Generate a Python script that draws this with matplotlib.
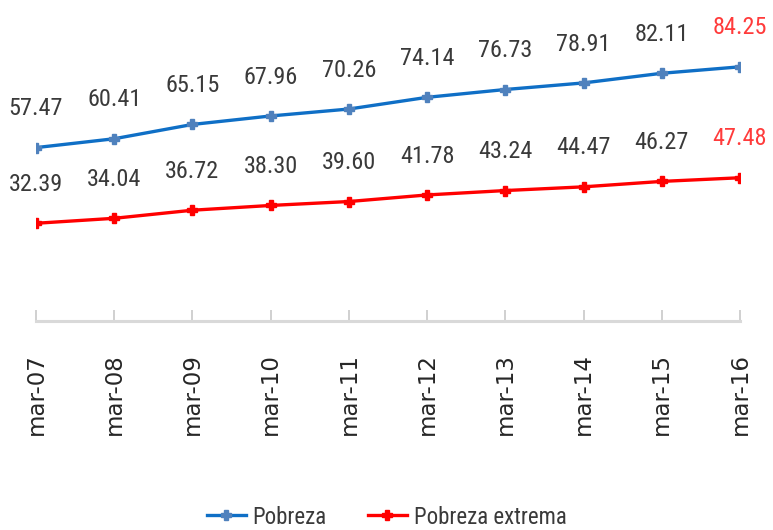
import matplotlib
matplotlib.use("Agg")
import matplotlib.pyplot as plt
from matplotlib import font_manager

categories = ["mar-07", "mar-08", "mar-09", "mar-10", "mar-11",
              "mar-12", "mar-13", "mar-14", "mar-15", "mar-16"]
pobreza = [57.47, 60.41, 65.15, 67.96, 70.26, 74.14, 76.73, 78.91, 82.11, 84.25]
pobreza_extrema = [32.39, 34.04, 36.72, 38.30, 39.60, 41.78, 43.24, 44.47, 46.27, 47.48]

installed = {f.name for f in font_manager.fontManager.ttflist}
narrow = [f for f in ["Liberation Sans Narrow", "Roboto Condensed", "Liberation Sans"] if f in installed]
narrow = narrow + ["DejaVu Sans"]

BLUE = "#0F6FC6"
BLUE_MK = "#4F81BD"
RED = "#FF0000"
TXT = "#3A3A3A"

fig = plt.figure(figsize=(7.73, 5.30), dpi=100)
ax = fig.add_axes([36 / 773, 209 / 530, (740 - 36) / 773, 301.7 / 530])

x = list(range(len(categories)))
ax.plot(x, pobreza, color=BLUE, lw=2.4, marker="P", ms=7.5,
        mfc=BLUE_MK, mec=BLUE_MK, label="Pobreza", zorder=3)
ax.plot(x, pobreza_extrema, color=RED, lw=2.4, marker="P", ms=7.5,
        mfc=RED, mec=RED, label="Pobreza extrema", zorder=3)

for series in (pobreza, pobreza_extrema):
    for i, v in enumerate(series):
        col = "#FF3B3B" if i == len(series) - 1 else TXT
        ax.annotate(f"{v:.2f}", (i, v), xytext=(0, 28), textcoords="offset points",
                    ha="center", va="center", fontsize=17.5, color=col,
                    family=narrow)

ax.set_xlim(0, len(categories) - 1)
ax.set_ylim(0, 100)
ax.set_yticks([])
for s in ("top", "right", "left"):
    ax.spines[s].set_visible(False)
ax.spines["bottom"].set_color("#D9D9D9")
ax.spines["bottom"].set_linewidth(2.2)

ax.set_xticks(x)
ax.set_xticklabels(categories, rotation=90, fontsize=16.5, color="#262626",
                   family=["DejaVu Sans"])
ax.tick_params(axis="x", direction="in", length=8, width=1.2, color="#C8C8C8",
               pad=23)

leg = fig.legend(loc="center", bbox_to_anchor=(0.5, 13 / 530), ncol=2,
                 frameon=False, handlelength=1.7, handletextpad=0.3,
                 columnspacing=1.8, prop={"family": narrow, "size": 16.5})
for t in leg.get_texts():
    t.set_color(TXT)

fig.savefig("out.png", dpi=100)
